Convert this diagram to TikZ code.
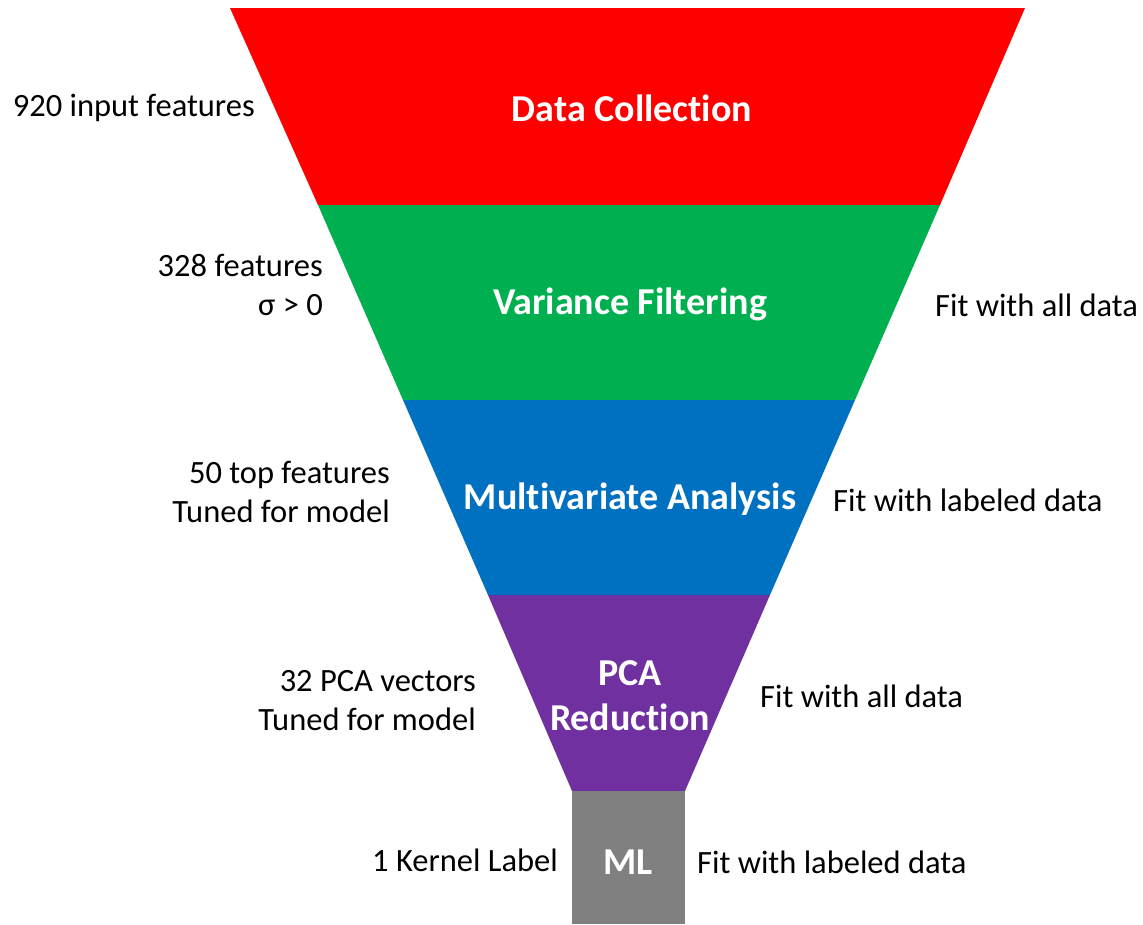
\documentclass[tikz,border=0pt]{standalone}
\usepackage{fontspec}
\setmainfont{Carlito}[Ligatures={NoCommon}]
\definecolor{stageRed}{HTML}{FF0000}
\definecolor{stageGreen}{HTML}{00B050}
\definecolor{stageBlue}{HTML}{0070C0}
\definecolor{stagePurple}{HTML}{7030A0}
\definecolor{stageGray}{HTML}{808080}
\begin{document}
\begin{tikzpicture}[x=1pt,y=-1pt,
  stagetitle/.style={text=white,font=\fontsize{38}{45}\selectfont\bfseries,align=center,inner sep=0pt},
  leftnote/.style={anchor=east,align=right,font=\fontsize{32.5}{39}\selectfont,inner sep=0pt},
  rightnote/.style={anchor=west,align=left,font=\fontsize{32.5}{39}\selectfont,inner sep=0pt}]
\useasboundingbox (0,0) rectangle (1143,924);
% funnel bands
\fill[stageRed]    (230,8) -- (1025,8) -- (940,205) -- (318,205) -- cycle;
\fill[stageGreen]  (318,205) -- (940,205) -- (855,400) -- (403,400) -- cycle;
\fill[stageBlue]   (403,400) -- (855,400) -- (770,595) -- (488,595) -- cycle;
\fill[stagePurple] (488,595) -- (770,595) -- (685,791) -- (572,791) -- cycle;
\fill[stageGray]   (572,791) rectangle (685,924);
% stage titles
\node[stagetitle] (dc) at (632,108) {Data Collection};
\node[stagetitle] (vf) at (630,304) {Variance Filtering};
\node[stagetitle] (ma) at (630,499) {Multivariate Analysis};
\node[stagetitle] (pca) at (630,696) {PCA\\Reduction};
\node[stagetitle] (ml) at (628,862) {ML};
% feature counts
\node[leftnote] (n1) at (255,108) {920 input features};
\node[leftnote] (n2) at (323,285) {328 features\\σ > 0};
\node[leftnote] (n3) at (390,492) {50 top features\\Tuned for model};
\node[leftnote] (n4) at (476,701) {32 PCA vectors\\Tuned for model};
\node[leftnote] (n5) at (558,860) {1 Kernel Label};
% fitting notes
\node[rightnote] (f1) at (935,305) {Fit with all data};
\node[rightnote] (f2) at (833,500) {Fit with labeled data};
\node[rightnote] (f3) at (760,696) {Fit with all data};
\node[rightnote] (f4) at (697,862) {Fit with labeled data};
\end{tikzpicture}
\end{document}
